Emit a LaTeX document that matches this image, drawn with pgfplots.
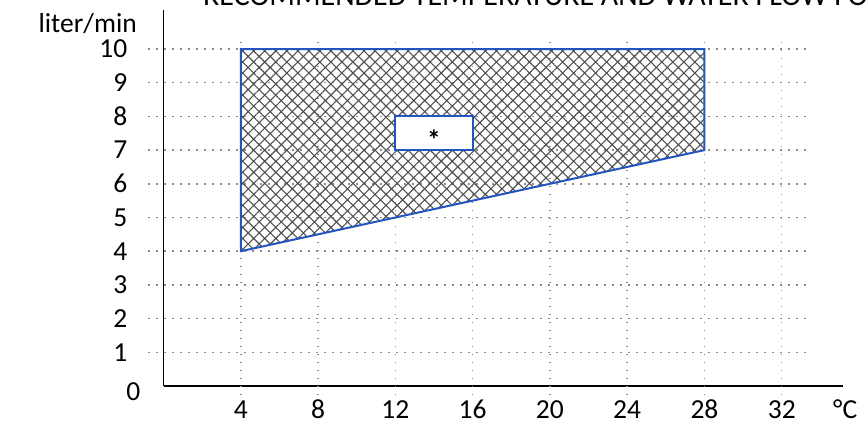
\documentclass[border=0pt]{standalone}
\usepackage{fontspec}
\setmainfont{Carlito}
\usepackage{pgfplots}
\pgfplotsset{compat=1.18}
\usetikzlibrary{patterns.meta}
\definecolor{bord}{RGB}{35,85,190}
\definecolor{gridc}{RGB}{140,140,140}
\definecolor{hatchc}{RGB}{80,80,80}
\newcommand{\bigf}{\fontsize{27.5}{33}\selectfont}
\begin{document}
\begin{tikzpicture}[x=1pt,y=1pt]
\useasboundingbox (0,0) rectangle (868,-426);
\begin{scope}
\clip (0,0) rectangle (868,-426);
\node[anchor=base west, inner sep=0pt, font=\fontsize{30}{36}\selectfont] at (203,-5) {RECOMMENDED TEMPERATURE AND WATER FLOW FOR HEAT PUMP};
\end{scope}
\node[anchor=base east, inner sep=0pt, font=\bigf] at (137,-32) {liter/min};
\node[anchor=base east, inner sep=0pt, font=\bigf] at (140.5,-400) {0};
\node[anchor=base west, inner sep=0pt, font=\bigf] at (833,-418) {°C};
\begin{axis}[
  at={(163.5pt,-386pt)}, anchor=origin,
  x=19.32pt, y=33.7pt,
  xmin=0, xmax=35.17, ymin=0, ymax=11.16,
  axis x line*=bottom, axis y line*=left,
  axis line style={line width=1.2pt, black},
  major tick length=0pt,
  xtick={4,8,12,16,20,24,28,32},
  ytick={1,2,3,4,5,6,7,8,9,10},
  clip=false,
  /pgf/number format/assume math mode=true,
  xticklabel style={font=\bigf, inner sep=0pt, anchor=base, yshift=-32pt},
  yticklabel style={font=\bigf, inner sep=0pt, anchor=east},
  yticklabel shift=36pt,
]
% grid
\foreach \yy in {1,...,10} {
  \edef\tmp{\noexpand\draw[gridc, line width=1.5pt, dash pattern=on 1.5pt off 6.5pt] (axis cs:-0.8,\yy) -- (axis cs:33.3,\yy);}
  \tmp
}
\foreach \xx in {4,8,...,32} {
  \edef\tmp{\noexpand\draw[gridc, line width=1.5pt, dash pattern=on 1.5pt off 6.5pt] (axis cs:\xx,-0.27) -- (axis cs:\xx,10.27);}
  \tmp
}
\addplot[draw=bord, line width=2pt, pattern={Hatch[angle=45,distance=7.8pt,line width=1.1pt]}, pattern color=hatchc]
  coordinates {(4,4) (28,7) (28,10) (4,10)} -- cycle;
\addplot[draw=bord, line width=2pt, fill=white]
  coordinates {(12,7) (16,7) (16,8) (12,8)} -- cycle;
\node[font=\bigf\bfseries, inner sep=0pt, yshift=-6pt] at (axis cs:14,7.5) {*};
\end{axis}
\end{tikzpicture}
\end{document}
